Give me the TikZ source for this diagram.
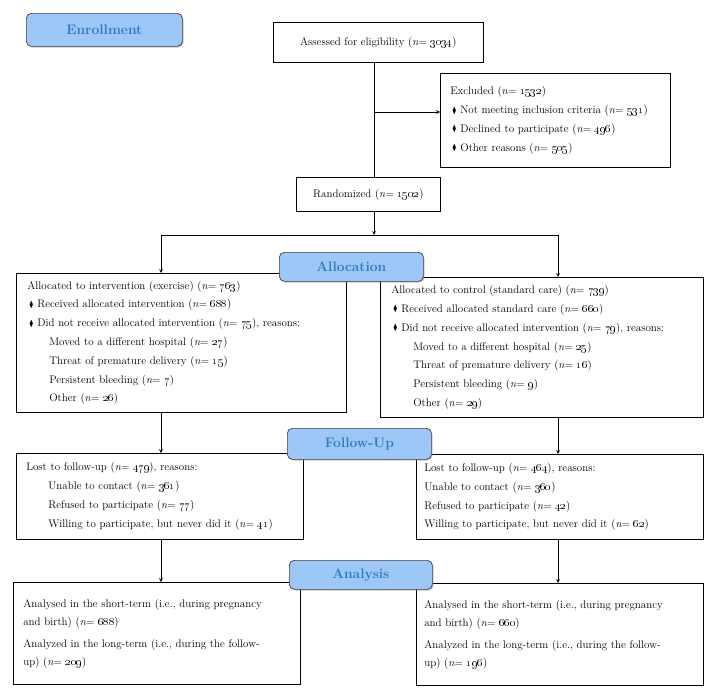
\documentclass[tikz,border=0pt]{standalone}
\usepackage{amsmath,amssymb,graphicx}
\usepackage{xcolor}
\usepackage{tikz}
\usetikzlibrary{shapes.geometric, arrows}
\usetikzlibrary{shadows}

\definecolor{phasefill}{RGB}{157,199,247}
\definecolor{phasetext}{RGB}{46,122,192}

\newcommand{\nof}[1]{(\textit{n}=~\oldstylenums{#1})}
\newcommand{\dmd}{\hspace*{2pt}\raisebox{0.6pt}{\scalebox{0.55}[0.8]{$\blacklozenge$}}\hspace*{4pt}}
\newcommand{\sub}{\hspace*{22pt}}

\tikzstyle{phase} = [rectangle, rounded corners=5pt, anchor=north west, draw=black!75, fill=phasefill, text=phasetext, font=\fontsize{13.8}{16}\selectfont\bfseries, drop shadow={shadow xshift=1.2pt, shadow yshift=-1.2pt, fill=black!45}]
\tikzstyle{box} = [rectangle, anchor=north west, draw=black, fill=white, align=left, inner xsep=10pt, font=\fontsize{11}{18.8}\selectfont]
\tikzstyle{arrow} = [->,>=stealth]
\tikzset{
  cbox/.style={
    box,
    align=center,
    inner xsep=4pt
    },
}

\begin{document}
\begin{tikzpicture}[x=1pt, y=-1pt, line width=0.7pt]
\useasboundingbox (0,0) rectangle (717,696);

% enrollment
\node (assess) [cbox, minimum width=210pt, minimum height=40pt] at (273,22) {Assessed for eligibility \nof{3034}};
\node (excl) [box, text width=210pt, minimum height=94pt] at (440,73) {Excluded \nof{1532}\\
\dmd Not meeting inclusion criteria \nof{531}\\
\dmd Declined to participate \nof{496}\\
\dmd Other reasons \nof{505}};
\node (rand) [cbox, minimum width=144pt, minimum height=34pt] at (296,177) {Randomized \nof{1502}};

% allocation
\node (allocL) [box, inner xsep=11pt, text width=308pt, minimum height=139pt] at (16,273) {Allocated to intervention (exercise) \nof{763}\\
\dmd Received allocated intervention \nof{688}\\
\dmd Did not receive allocated intervention \nof{75}, reasons:\\
\sub Moved to a different hospital \nof{27}\\
\sub Threat of premature delivery \nof{15}\\
\sub Persistent bleeding \nof{7}\\
\sub Other \nof{26}};
\node (allocR) [box, inner xsep=11pt, text width=301pt, minimum height=140pt] at (380,277) {Allocated to control (standard care) \nof{739}\\
\dmd Received allocated standard care \nof{660}\\
\dmd Did not receive allocated intervention \nof{79}, reasons:\\
\sub Moved to a different hospital \nof{25}\\
\sub Threat of premature delivery \nof{16}\\
\sub Persistent bleeding \nof{9}\\
\sub Other \nof{29}};

% follow-up
\node (followL) [box, text width=267pt, minimum height=86pt] at (16,453) {Lost to follow-up \nof{479}, reasons:\\
\sub Unable to contact \nof{361}\\
\sub Refused to participate \nof{77}\\
\sub Willing to participate, but never did it \nof{41}};
\node (followR) [box, inner xsep=8pt, text width=271pt, minimum height=85pt] at (416,454) {Lost to follow-up \nof{464}, reasons:\\
Unable to contact \nof{360}\\
Refused to participate \nof{42}\\
Willing to participate, but never did it \nof{62}};

% analysis
\node (anaL) [box, text width=267pt, minimum height=102pt, font=\fontsize{11}{18}\selectfont] at (13,582) {Analysed in the short-term (i.e., during pregnancy\\
and birth) \nof{688}\\[4pt]
Analyzed in the long-term (i.e., during the follow-\\
up) \nof{209}};
\node (anaR) [box, inner xsep=8pt, text width=271pt, minimum height=102pt, font=\fontsize{11}{18}\selectfont] at (416,583) {Analysed in the short-term (i.e., during pregnancy\\
and birth) \nof{660}\\[4pt]
Analyzed in the long-term (i.e., during the follow-\\
up) \nof{196}};

% phase labels
\node (enroll) [phase, minimum width=156pt, minimum height=33pt] at (26,13) {Enrollment};
\node (allocation) [phase, minimum width=144pt, minimum height=29pt] at (279,252) {Allocation};
\node (followup) [phase, minimum width=144pt, minimum height=31pt] at (287,428) {Follow-Up};
\node (analysis) [phase, minimum width=143pt, minimum height=29pt] at (289,560) {Analysis};

\coordinate (split) at (374,235);
\coordinate (exin) at (374,112);
\coordinate (splitL) at (161,235);
\coordinate (splitR) at (558,235);

\draw (assess.south -| split) -- (rand.north -| split);
\draw [arrow] (exin) -- (exin -| excl.west);
\draw [arrow] (rand.south -| split) -- (split);
\draw (splitL) -- (splitR);
\draw [arrow] (splitL) -- (splitL |- allocL.north);
\draw [arrow] (splitR) -- (splitR |- allocR.north);
\draw [arrow] (splitL |- allocL.south) -- (splitL |- followL.north);
\draw [arrow] (splitR |- allocR.south) -- (splitR |- followR.north);
\draw [arrow] (splitL |- followL.south) -- (splitL |- anaL.north);
\draw [arrow] (splitR |- followR.south) -- (splitR |- anaR.north);

\end{tikzpicture}
\end{document}
